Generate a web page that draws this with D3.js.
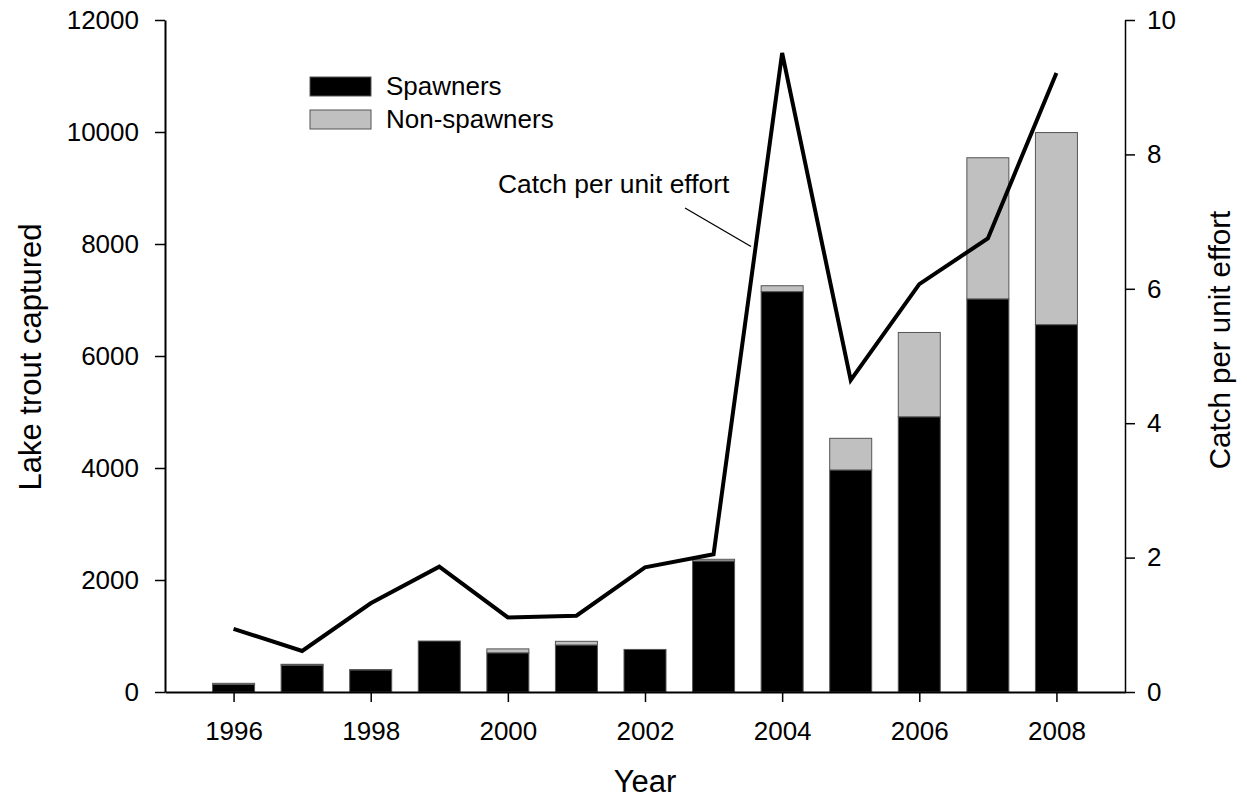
<!DOCTYPE html>
<html>
<head>
<meta charset="UTF-8">
<title>Lake trout captured</title>
<style>
  body { margin: 0; background: #fff; }
  svg { font-family: "Liberation Sans", Arial, Helvetica, sans-serif; }
  .axis path, .axis line { stroke: #000; }
  .axis text { font-size: 26px; fill: #000; }
</style>
</head>
<body>
<svg id="chart" width="1247" height="805"></svg>
<script src="https://d3js.org/d3.v7.min.js"></script>
<script>
// data
const years = [1996, 1997, 1998, 1999, 2000, 2001, 2002, 2003, 2004, 2005, 2006, 2007, 2008];
const spawners = [135, 480, 395, 910, 700, 840, 760, 2340, 7150, 3965, 4915, 7020, 6560];
const nonSpawners = [20, 15, 5, 0, 70, 65, 0, 30, 105, 565, 1505, 2520, 3430];
const cpue = [0.94, 0.61, 1.32, 1.865, 1.11, 1.135, 1.855, 2.05, 9.51, 4.64, 6.07, 6.75, 9.21];
const yearTicks = [1996, 1998, 2000, 2002, 2004, 2006, 2008];
const leftTicks = [0, 2000, 4000, 6000, 8000, 10000, 12000];
const rightTicks = [0, 2, 4, 6, 8, 10];

const plotL = 165, plotR = 1125, plotT = 20, plotB = 692;
const svg = d3.select("#chart");

let x = d3.scaleLinear().domain([1995, 2009]).range([plotL, plotR]);
let y = d3.scaleLinear().domain([0, 12000]).range([plotB, plotT]);
let y2 = d3.scaleLinear().domain([0, 10]).range([plotB, plotT]);
const barW = 42;

// stacked bars
let rows = years.map((yr, i) => ({year: yr, sp: spawners[i], ns: nonSpawners[i]}));

let bars = svg.append("g").attr("id", "bars");
bars.selectAll("rect.sp")
    .data(rows)
    .enter().append("rect")
    .attr("class", "sp")
    .attr("x", d => x(d.year) - barW / 2)
    .attr("width", barW)
    .attr("y", d => y(d.sp))
    .attr("height", d => y(0) - y(d.sp))
    .attr("fill", "#000")
    .attr("stroke", "#555")
    .attr("stroke-width", 1);

bars.selectAll("rect.ns")
    .data(rows.filter(d => d.ns > 0))
    .enter().append("rect")
    .attr("class", "ns")
    .attr("x", d => x(d.year) - barW / 2)
    .attr("width", barW)
    .attr("y", d => y(d.sp + d.ns))
    .attr("height", d => y(d.sp) - y(d.sp + d.ns))
    .attr("fill", "#c0c0c0")
    .attr("stroke", "#555")
    .attr("stroke-width", 1);

// catch per unit effort line
let line = d3.line()
    .x((d, i) => x(years[i]))
    .y(d => y2(d));

svg.append("path")
    .datum(cpue)
    .attr("d", line)
    .attr("fill", "none")
    .attr("stroke", "#000")
    .attr("stroke-width", 4)
    .attr("stroke-linejoin", "miter");

// axes
let xAxis = svg.append("g").attr("class", "axis")
    .attr("transform", "translate(0," + plotB + ")")
    .call(d3.axisBottom(x).tickValues(yearTicks).tickFormat(d3.format("d"))
        .tickSize(10).tickSizeOuter(0).tickPadding(20));
xAxis.select(".domain").attr("stroke-width", 2);
xAxis.selectAll(".tick line").attr("stroke-width", 1.5);

let yAxis = svg.append("g").attr("class", "axis")
    .attr("transform", "translate(" + plotL + ",0)")
    .call(d3.axisLeft(y).tickValues(leftTicks).tickFormat(d3.format("d"))
        .tickSize(10).tickSizeOuter(0).tickPadding(16));
yAxis.select(".domain").attr("stroke-width", 2);
yAxis.selectAll(".tick line").attr("stroke-width", 1.5);

let y2Axis = svg.append("g").attr("class", "axis")
    .attr("transform", "translate(" + plotR + ",0)")
    .call(d3.axisRight(y2).tickValues(rightTicks)
        .tickSize(10).tickSizeOuter(0).tickPadding(12));
y2Axis.select(".domain").attr("stroke-width", 1.5);
y2Axis.selectAll(".tick line").attr("stroke-width", 1.5);

// titles
svg.append("text")
    .attr("x", 645)
    .attr("y", 792)
    .attr("text-anchor", "middle")
    .attr("font-size", 31)
    .text("Year");

svg.append("text")
    .attr("transform", "translate(41,357) rotate(-90)")
    .attr("text-anchor", "middle")
    .attr("font-size", 31)
    .text("Lake trout captured");

svg.append("text")
    .attr("transform", "translate(1230,340) rotate(-90)")
    .attr("text-anchor", "middle")
    .attr("font-size", 29.5)
    .text("Catch per unit effort");

// legend
let legendItems = [
    {label: "Spawners", fill: "#000", y: 77},
    {label: "Non-spawners", fill: "#c0c0c0", y: 110}
];
let legend = svg.append("g").attr("id", "legend");
legend.selectAll("rect")
    .data(legendItems)
    .enter().append("rect")
    .attr("x", 310)
    .attr("y", d => d.y)
    .attr("width", 61)
    .attr("height", 19)
    .attr("fill", d => d.fill)
    .attr("stroke", "#555")
    .attr("stroke-width", 1);
legend.selectAll("text")
    .data(legendItems)
    .enter().append("text")
    .attr("x", 386)
    .attr("y", d => d.y + 18)
    .attr("font-size", 26)
    .text(d => d.label);

// annotation
svg.append("text")
    .attr("x", 498)
    .attr("y", 193)
    .attr("font-size", 26.4)
    .text("Catch per unit effort");
svg.append("line")
    .attr("x1", 685).attr("y1", 208)
    .attr("x2", 751).attr("y2", 246.5)
    .attr("stroke", "#000")
    .attr("stroke-width", 1.3);
</script>
</body>
</html>
